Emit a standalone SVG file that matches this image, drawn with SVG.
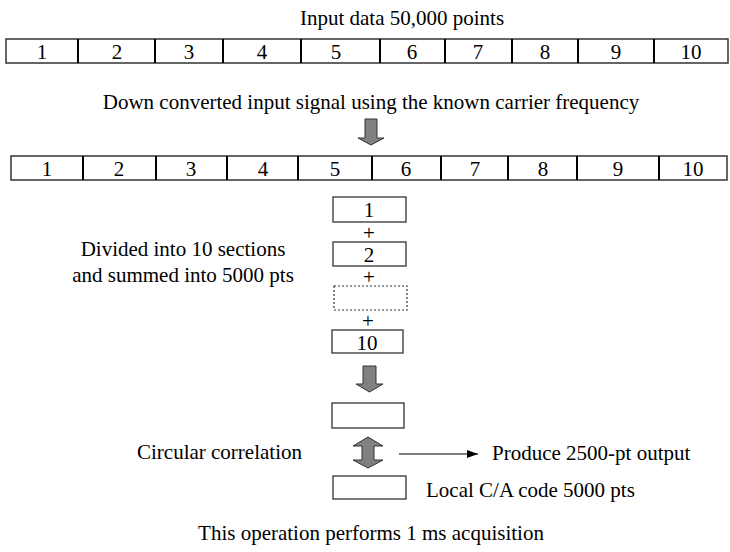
<svg xmlns="http://www.w3.org/2000/svg" width="730" height="552" viewBox="0 0 730 552">
<style>
text{font-family:"Liberation Serif","DejaVu Serif","Times New Roman",Times,serif;font-size:21px;fill:#000}
.c{text-anchor:middle}
.bar{fill:#fff;stroke:#333;stroke-width:1.5}
.div{stroke:#000;stroke-width:2}
.box{fill:#fff;stroke:#333;stroke-width:1.3}
.dash{fill:#fff;stroke:#333;stroke-width:1.2;stroke-dasharray:2,2}
.big{fill:#808080;stroke:#333;stroke-width:1}
</style>
<defs>
<marker id="ah" markerWidth="12" markerHeight="10" refX="11" refY="5" orient="auto" markerUnits="userSpaceOnUse">
<path d="M0,1 L11,5 L0,9 Z" fill="#000"/>
</marker>
</defs>
<rect width="730" height="552" fill="#fff"/>
<text id="title" class="c" x="402" y="25">Input data 50,000 points</text>
<g id="bar1">
<rect class="bar" x="6" y="39" width="722" height="24"/>
<g class="div">
<line x1="78" y1="39" x2="78" y2="63"/><line x1="155" y1="39" x2="155" y2="63"/><line x1="223" y1="39" x2="223" y2="63"/><line x1="301" y1="39" x2="301" y2="63"/><line x1="380" y1="39" x2="380" y2="63"/><line x1="445" y1="39" x2="445" y2="63"/><line x1="512" y1="39" x2="512" y2="63"/><line x1="578" y1="39" x2="578" y2="63"/><line x1="654" y1="39" x2="654" y2="63"/>
</g>
<text class="c" x="42" y="59">1</text><text class="c" x="117" y="59">2</text><text class="c" x="189" y="59">3</text><text class="c" x="262" y="59">4</text><text class="c" x="336" y="59">5</text><text class="c" x="412" y="59">6</text><text class="c" x="478" y="59">7</text><text class="c" x="545" y="59">8</text><text class="c" x="616" y="59">9</text><text class="c" x="691" y="59">10</text>
</g>
<text id="downlabel" class="c" x="371" y="109">Down converted input signal using the known carrier frequency</text>
<g id="bar2">
<rect class="bar" x="11" y="156" width="716" height="24"/>
<g class="div">
<line x1="83" y1="156" x2="83" y2="180"/><line x1="156" y1="156" x2="156" y2="180"/><line x1="227" y1="156" x2="227" y2="180"/><line x1="298" y1="156" x2="298" y2="180"/><line x1="372" y1="156" x2="372" y2="180"/><line x1="441" y1="156" x2="441" y2="180"/><line x1="508" y1="156" x2="508" y2="180"/><line x1="577" y1="156" x2="577" y2="180"/><line x1="659" y1="156" x2="659" y2="180"/>
</g>
<text class="c" x="47" y="176">1</text><text class="c" x="119" y="176">2</text><text class="c" x="191" y="176">3</text><text class="c" x="263" y="176">4</text><text class="c" x="335" y="176">5</text><text class="c" x="406" y="176">6</text><text class="c" x="475" y="176">7</text><text class="c" x="543" y="176">8</text><text class="c" x="618" y="176">9</text><text class="c" x="693" y="176">10</text>
</g>
<g id="sec1"><rect class="box" x="333" y="197" width="73" height="25"/><text class="c" x="369" y="217">1</text></g>
<text class="c" x="369" y="240">+</text>
<g id="sec2"><rect class="box" x="333" y="242" width="73" height="24"/><text class="c" x="369" y="262">2</text></g>
<text class="c" x="369" y="284">+</text>
<g id="secdots"><rect class="dash" x="334" y="286" width="73" height="24"/></g>
<text class="c" x="368" y="328">+</text>
<g id="sec10"><rect class="box" x="332" y="330" width="71" height="23"/><text class="c" x="367" y="350">10</text></g>
<text id="divlabel1" class="c" x="183" y="256">Divided into 10 sections</text>
<text id="divlabel2" class="c" x="183" y="282">and summed into 5000 pts</text>
<g id="summed"><rect class="box" x="332" y="403" width="72" height="25"/></g>
<g id="local"><rect class="box" x="333" y="476" width="73" height="23"/></g>
<text id="corr" x="302" y="459" text-anchor="end">Circular correlation</text>
<text id="out" x="492" y="460">Produce 2500-pt output</text>
<text id="loclabel" x="426" y="497">Local C/A code 5000 pts</text>
<text id="foot" class="c" x="371" y="540">This operation performs 1 ms acquisition</text>
<g id="connectors">
<path class="big" d="M365,119 H377 V138 H384 L371,145 L358,138 H365 Z"/>
<path class="big" d="M363,366 H376 V384 H383 L369.5,392 L356,384 H363 Z"/>
<path class="big" d="M368,437 L383,446 H374 V460 H383 L368,468 L353,460 H362 V446 H353 Z"/>
<line x1="399" y1="454" x2="478" y2="454" stroke="#000" stroke-width="1.2" marker-end="url(#ah)"/>
</g>
</svg>
